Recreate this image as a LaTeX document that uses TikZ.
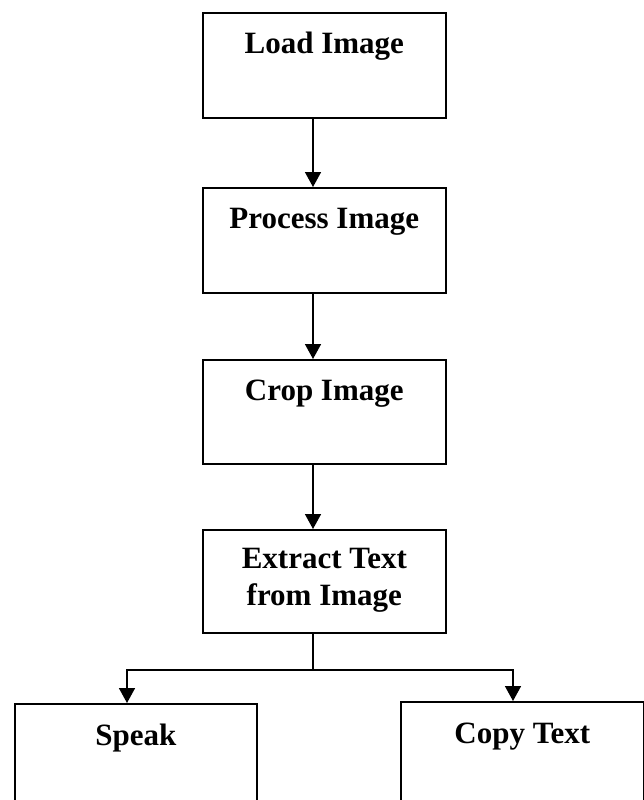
\documentclass[tikz,border=0pt]{standalone}
\usepackage{fontspec}
\setmainfont{Liberation Serif}
\usetikzlibrary{arrows.meta}
\begin{document}
\begin{tikzpicture}[x=1pt,y=-1pt,
  stepbox/.style={draw=black,line width=1.6pt,rectangle,inner sep=0pt,anchor=north west},
  boxtext/.style={anchor=base,inner sep=0pt,font=\fontsize{31}{37}\selectfont\bfseries},
  arr/.style={draw=black,line width=1.6pt,-{Triangle[width=16pt,length=15pt]}},
  ln/.style={draw=black,line width=1.6pt}]
\useasboundingbox (0,0) rectangle (644,800);
\clip (0,0) rectangle (644,800);
\node[stepbox,minimum width=243pt,minimum height=105pt] (load) at (202,12) {};
\node[boxtext] at ([yshift=-41pt]load.north) {Load Image};
\node[stepbox,minimum width=243pt,minimum height=105pt] (proc) at (202,187) {};
\node[boxtext] at ([yshift=-41pt]proc.north) {Process Image};
\node[stepbox,minimum width=243pt,minimum height=104pt] (crop) at (202,359) {};
\node[boxtext] at ([yshift=-41pt]crop.north) {Crop Image};
\node[stepbox,minimum width=243pt,minimum height=103pt] (ext) at (202,529) {};
\node[boxtext] at ([yshift=-39pt]ext.north) {Extract Text};
\node[boxtext] at ([yshift=-76pt]ext.north) {from Image};
\node[stepbox,minimum width=242pt,minimum height=140pt] (speak) at (14,703) {};
\node[boxtext] at ([yshift=-42pt]speak.north) {Speak};
\node[stepbox,minimum width=243pt,minimum height=140pt] (copy) at (400,701) {};
\node[boxtext] at ([yshift=-42pt]copy.north) {Copy Text};
\coordinate (axis) at (313,0);
\coordinate (fork) at (313,670);
\coordinate (sp) at (127,670);
\coordinate (cp) at (513,670);
\draw[arr] (load.south -| axis) -- (proc.north -| axis);
\draw[arr] (proc.south -| axis) -- (crop.north -| axis);
\draw[arr] (crop.south -| axis) -- (ext.north -| axis);
\draw[ln] (ext.south -| axis) -- (fork);
\draw[arr] (fork) -- (sp) -- (sp |- speak.north);
\draw[arr] (fork) -- (cp) -- (cp |- copy.north);
\end{tikzpicture}
\end{document}
